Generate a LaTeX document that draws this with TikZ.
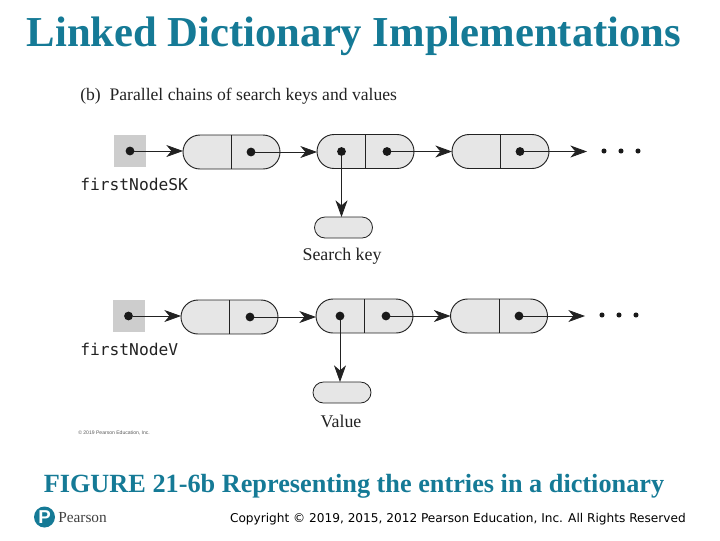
\documentclass[tikz,border=0pt]{standalone}
\usepackage{fontspec}
\setmainfont{Liberation Serif}
\newfontfamily\lsans{Liberation Sans}
\newfontfamily\vsans{DejaVu Sans}
\newfontfamily\dmono{DejaVu Sans Mono}
\usetikzlibrary{arrows.meta,shapes.misc}
\definecolor{pteal}{HTML}{157A96}
\definecolor{cellgray}{HTML}{E6E6E6}
\definecolor{headgray}{HTML}{CDCDCD}
\definecolor{ink}{HTML}{222222}
\tikzset{
  cell/.style={rounded rectangle,draw=ink,line width=0.7pt,fill=cellgray,minimum width=72.75pt,minimum height=25.5pt,inner sep=0pt,outer sep=0pt},
  datacell/.style={rounded rectangle,draw=ink,line width=0.6pt,fill=cellgray,minimum width=43.5pt,minimum height=15.75pt,inner sep=0pt,outer sep=0pt},
  headbox/.style={rectangle,fill=headgray,minimum size=24pt,inner sep=0pt,outer sep=0pt},
  blob/.style={circle,fill=black!90,minimum size=6.6pt,inner sep=0pt,outer sep=0pt},
  tiny dot/.style={circle,fill=black!90,minimum size=3.8pt,inner sep=0pt},
  link/.style={draw=ink,line width=0.6pt,-{Stealth[length=12.5pt,width=9pt,inset=3.8pt]}},
  divider/.style={draw=ink,line width=0.6pt},
  figtext/.style={text=ink,inner sep=0pt,anchor=base},
  monotext/.style={text=ink,inner sep=0pt,anchor=base west,font=\dmono\fontsize{12.2}{14}\selectfont},
}
\newcommand{\chaincell}[4]{%
  % name, centre x, centre y, dot x
  \node[cell] (#1) at (#2,#3) {};
  \draw[divider] (#1.north) -- (#1.south);
  \node[blob] (#1d) at (#4,#3) {};
}
\begin{document}
\begin{tikzpicture}[x=0.75pt,y=-0.75pt]
\useasboundingbox (0,0) rectangle (720,540);
\node[inner sep=0pt,anchor=base,text=pteal,font=\bfseries\fontsize{32}{36}\selectfont] (title) at (354,46) {Linked Dictionary Implementations};
\node[figtext,anchor=base west,font=\fontsize{13.2}{15}\selectfont] (sub) at (80,100.5) {(b)\ \ Parallel chains of search keys and values};

% upper chain
\node[headbox] (h1) at (130,151) {};
\node[blob] (h1d) at (130,151) {};
\chaincell{a1}{231.5}{152}{251}
\chaincell{a2}{365.5}{151.5}{387}
\chaincell{a3}{500.5}{151.5}{520}
\node[blob] (a2k) at (341.5,151.5) {};
\coordinate (aend) at (587,151);
\draw[link] (h1d) -- (h1d -| a1.west);
\draw[link] (a1d) -- (a1d -| a2.west);
\draw[link] (a2d) -- (a2d -| a3.west);
\draw[link] (a3d) -- (a3d -| aend);
\node[tiny dot] (ae1) at (604,151) {};
\node[tiny dot] (ae2) at (621,151) {};
\node[tiny dot] (ae3) at (638,151) {};
\node[monotext] (lsk) at (80,190.5) {firstNodeSK};
\node[datacell] (k) at (343.5,227.5) {};
\draw[link] (a2k) -- (k.north -| a2k);
\node[figtext,font=\fontsize{13.4}{15}\selectfont] (kl) at (342,260) {Search key};

% lower chain
\node[headbox] (h2) at (129,316) {};
\node[blob] (h2d) at (128.5,316) {};
\chaincell{b1}{229.5}{317}{250}
\chaincell{b2}{364.5}{316}{386}
\chaincell{b3}{499}{316}{519}
\node[blob] (b2k) at (340,316) {};
\coordinate (bend) at (585,316);
\draw[link] (h2d) -- (h2d -| b1.west);
\draw[link] (b1d) -- (b1d -| b2.west);
\draw[link] (b2d) -- (b2d -| b3.west);
\draw[link] (b3d) -- (b3d -| bend);
\node[tiny dot] (be1) at (602,315) {};
\node[tiny dot] (be2) at (619,315) {};
\node[tiny dot] (be3) at (636,315) {};
\node[monotext] (lv) at (80,355.5) {firstNodeV};
\node[datacell] (v) at (342,392.5) {};
\draw[link] (b2k) -- (v.north -| b2k);
\node[figtext,font=\fontsize{13.4}{15}\selectfont] (vl) at (341,427) {Value};

\node[inner sep=0pt,anchor=base west,text=black!65,font=\lsans\fontsize{3.8}{4}\selectfont] (cp) at (78,434.5) {© 2019 Pearson Education, Inc.};
\node[inner sep=0pt,anchor=base,text=pteal,font=\bfseries\fontsize{19.7}{22}\selectfont] (cap) at (354,492.5) {FIGURE 21-6b Representing the entries in a dictionary};
\node[circle,fill=pteal,minimum size=15.75pt,inner sep=0pt,text=white,font=\lsans\bfseries\fontsize{14}{14}\selectfont] (logo) at (44.5,517) {P};
\node[inner sep=0pt,anchor=base west,text=black!75,font=\fontsize{11.5}{12}\selectfont] (pear) at (58,522) {Pearson};
\node[inner sep=0pt,anchor=base east,text=black,font=\vsans\fontsize{9.1}{11}\selectfont] (copy) at (686,522) {Copyright © 2019, 2015, 2012 Pearson Education, Inc. All Rights Reserved};
\end{tikzpicture}
\end{document}
